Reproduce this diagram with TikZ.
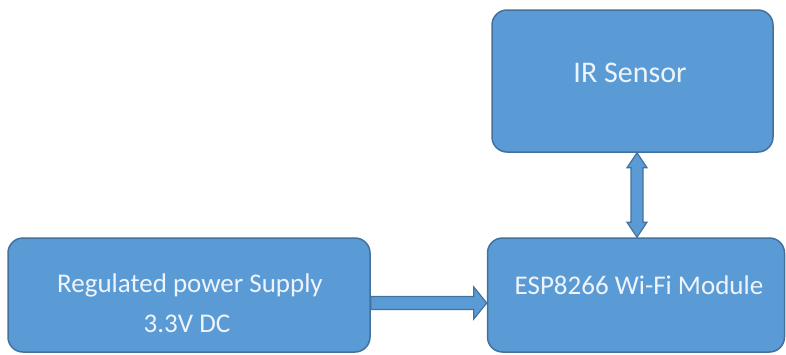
\documentclass[tikz,border=0pt]{standalone}
\usepackage{fontspec}
\setmainfont{Carlito}
\usetikzlibrary{calc}
\definecolor{boxfill}{HTML}{5B9BD5}
\definecolor{boxline}{HTML}{41719C}
\definecolor{txt}{RGB}{238,244,251}
\tikzset{
  blockbox/.style={draw=boxline, fill=boxfill, line width=1.5pt, rounded corners=15pt, inner sep=0pt},
  boxtext/.style={text=txt, anchor=base, inner sep=0pt},
  blockarrow/.style={draw=boxline, fill=boxfill, line width=1.2pt, line join=miter}
}
\begin{document}
\begin{tikzpicture}[x=1pt,y=-1pt]
\useasboundingbox (0,0) rectangle (786,354);
% boxes
\node[blockbox, minimum width=281pt, minimum height=142pt] (ir) at (632.5,81) {};
\node[blockbox, minimum width=362pt, minimum height=114pt] (pwr) at (189,295) {};
\node[blockbox, minimum width=297pt, minimum height=114pt] (esp) at (636,295) {};
% texts
\node[boxtext, font=\fontsize{30}{36}\selectfont] (irtxt) at (630,82) {IR Sensor};
\node[boxtext, font=\fontsize{27}{32}\selectfont] (esptxt) at (639,294) {ESP8266 Wi-Fi Module};
\node[boxtext, font=\fontsize{27}{32}\selectfont] (pwrtxt1) at (190,292) {Regulated power Supply};
\node[boxtext, font=\fontsize{27}{32}\selectfont] (pwrtxt2) at (187,332) {3.3V DC};
% horizontal block arrow
\coordinate (h1) at ($(pwr.east)+(0,8)$);
\coordinate (h2) at ($(esp.west)+(0,8)$);
\draw[blockarrow] ($(h1)+(0,-6.5)$) -- ($(h2)+(-13,-6.5)$) -- ($(h2)+(-13,-16)$) -- (h2)
  -- ($(h2)+(-13,16)$) -- ($(h2)+(-13,6.5)$) -- ($(h1)+(0,6.5)$) -- cycle;
% vertical double block arrow
\coordinate (v1) at ($(ir.south)+(4.5,0)$);
\coordinate (v2) at (v1 |- esp.north);
\draw[blockarrow] (v1) -- ($(v1)+(10,15)$) -- ($(v1)+(6,15)$) -- ($(v2)+(6,-15)$) -- ($(v2)+(10,-15)$) -- (v2)
  -- ($(v2)+(-10,-15)$) -- ($(v2)+(-6,-15)$) -- ($(v1)+(-6,15)$) -- ($(v1)+(-10,15)$) -- cycle;
\end{tikzpicture}
\end{document}
